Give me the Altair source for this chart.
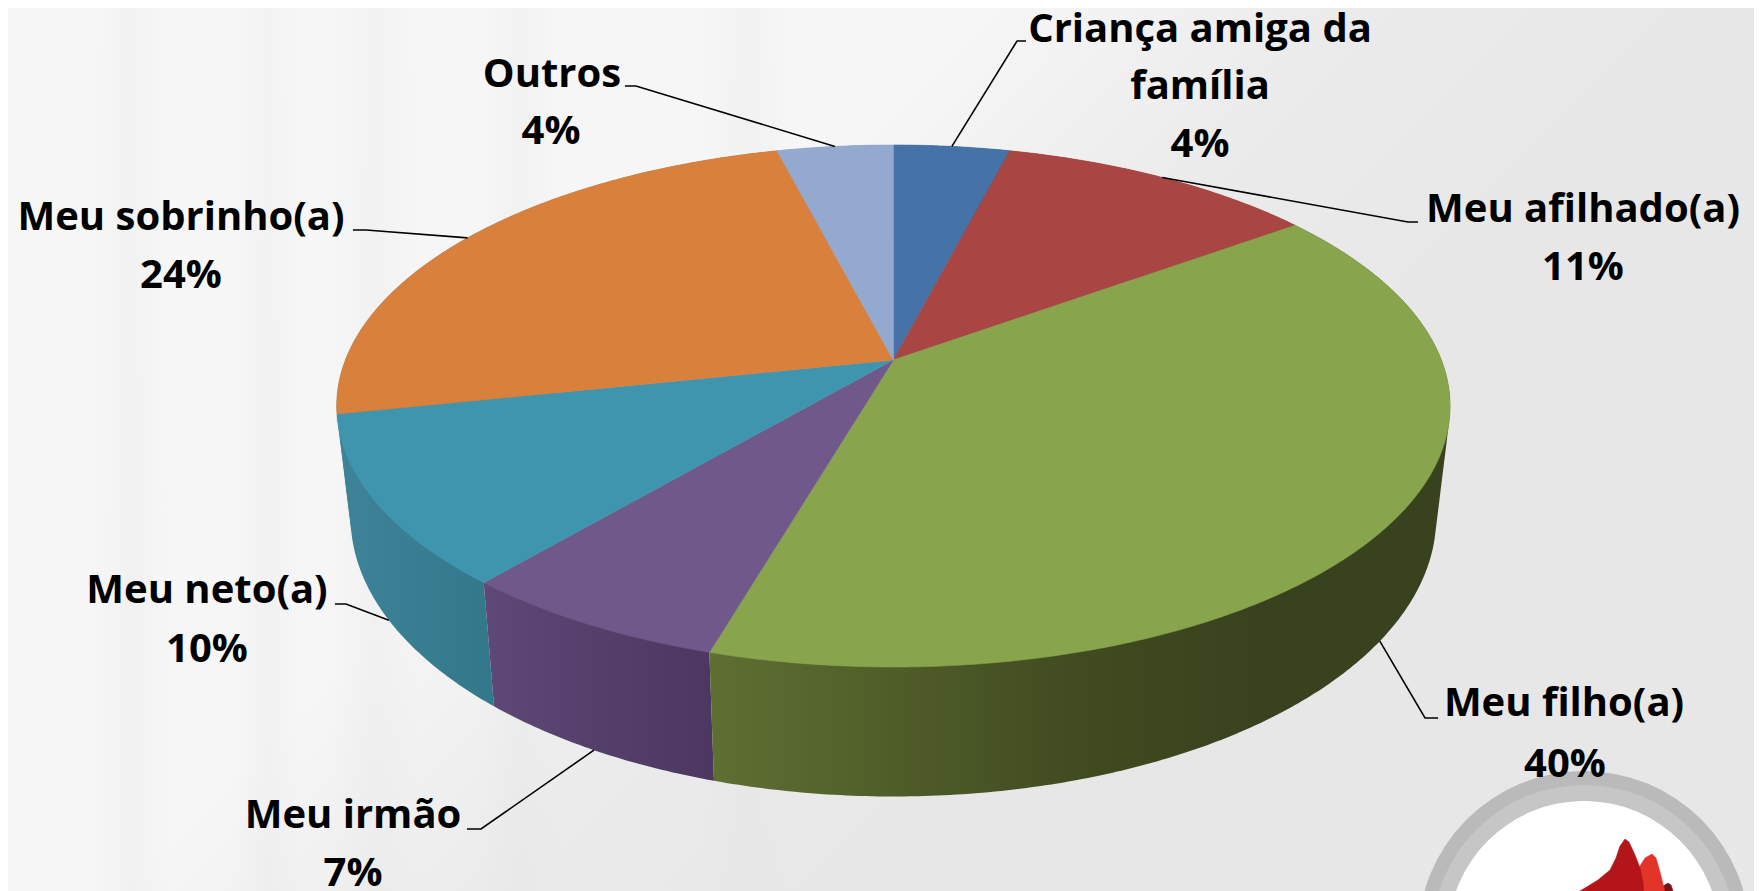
import math
import altair as alt

# ---- data ----
LABELS = ["Criança amiga da família", "Meu afilhado(a)", "Meu filho(a)", "Meu irmão",
          "Meu neto(a)", "Meu sobrinho(a)", "Outros"]
SHARES = [4.0, 11.0, 39.5, 6.7, 10.5, 24.3, 4.0]      # slice sizes as drawn
SHOWN_PCT = ["4%", "11%", "40%", "7%", "10%", "24%", "4%"]  # printed labels

# ---- styles / layout, separate from the data ----
TOP_COLORS = ["#4572A7", "#A94543", "#88A44D", "#71588B", "#4095AE", "#D8803C", "#93A9CF"]
WALL_STOPS = [
    [(0, "#38618f"), (1, "#2f5078")],
    [(0, "#8f3b39"), (1, "#7a3230")],
    [(0, "#5f6f32"), (0.5, "#404b20"), (0.75, "#38421e"), (1, "#38421e")],
    [(0, "#5e4877"), (1, "#4b3760")],
    [(0, "#3f8399"), (1, "#33778b")],
    [(0, "#3f8399"), (1, "#3a7f94")],
    [(0, "#7d90b0"), (1, "#6c7d99")],
]
W, H = 1746, 883
OFF = 8
CX, CY = 893.4 - OFF, 360 - OFF
A, B, K = 548.0, 252.9, 0.1762
FONT = "Open Sans"
FS = 40

# text lines per label, with line centres in page pixels
LABEL_LINES = [
    [("Criança amiga da", 1200, 30), ("família", 1200, 87), (SHOWN_PCT[0], 1200, 145)],
    [(LABELS[1], 1583, 210), (SHOWN_PCT[1], 1583, 268)],
    [(LABELS[2], 1564, 704), (SHOWN_PCT[2], 1565, 765)],
    [(LABELS[3], 353, 816), (SHOWN_PCT[3], 353, 874)],
    [(LABELS[4], 207, 591), (SHOWN_PCT[4], 207, 650)],
    [(LABELS[5], 181, 218), (SHOWN_PCT[5], 181, 276)],
    [(LABELS[6], 552, 75), (SHOWN_PCT[6], 551, 132)],
]
# leader: elbow and end next to the text, in page pixels; the third item says if it meets the wall
LEADERS = [
    ((1017, 41), (1026, 41), False),
    ((1408, 222), (1418, 222), False),
    ((1425, 718), (1438, 718), True),
    ((481, 829), (467, 829), True),
    ((346, 604), (335, 604), True),
    ((366, 230), (353, 230), False),
    ((636, 86), (625, 86), False),
]
# soft vertical streaks of the backdrop: left and right edge in page pixels
STREAKS = [(90, 170), (235, 300), (480, 560), (700, 790), (330, 420)]


def rim(theta, lower=False):
    """Perspective image of the unit circle (theta clockwise from 12 o'clock, in chart px)."""
    u, v = math.sin(theta), math.cos(theta)
    d = 1 + K * v
    x, yup = A * u / d, B * v / d
    if lower:
        return CX + 0.975 * x, CY + 1.07 * (-yup) + 108
    return CX + x, CY - yup


def arc_pts(t0, t1, lower=False):
    n = max(3, int(abs(t1 - t0) / 0.01))
    return [rim(t0 + (t1 - t0) * i / n, lower) for i in range(n + 1)]


def hull(points):
    pts = sorted(set(points))

    def half(seq):
        out = []
        for p in seq:
            while len(out) > 1 and ((out[-1][0] - out[-2][0]) * (p[1] - out[-2][1])
                                    - (out[-1][1] - out[-2][1]) * (p[0] - out[-2][0])) <= 0:
                out.pop()
            out.append(p)
        return out[:-1]

    return half(pts) + half(pts[::-1])


def feature(ring):
    ring = [list(p) for p in ring]
    if ring[0] != ring[-1]:
        ring.append(ring[0])
    return {"type": "Feature", "properties": {}, "geometry": {"type": "Polygon", "coordinates": [ring]}}


PROJ = dict(type="identity", scale=1, translate=[0, 0])


def shape(ring, fill):
    kw = dict(fill=fill)
    if isinstance(fill, str):
        kw.update(stroke=fill, strokeWidth=0.6)
    else:
        kw.update(strokeWidth=0)
    return alt.Chart(alt.Data(values=[feature(ring)])).mark_geoshape(**kw).project(**PROJ)


def grad(stops, x2=1, y2=0):
    return alt.Gradient(gradient="linear", x1=0, x2=x2, y1=0, y2=y2,
                        stops=[alt.GradientStop(offset=o, color=c) for o, c in stops])


# cumulative angles from the shares
total = sum(SHARES)
edges = [0.0]
for s in SHARES:
    edges.append(edges[-1] + s / total * 2 * math.pi)

one = alt.Data(values=[{"a": 1}])
layers = []

# backdrop
layers.append(alt.Chart(one).mark_rect(
    fill=grad([(0, "#f7f7f7"), (0.45, "#f6f6f6"), (0.62, "#ebebeb"), (0.8, "#e7e7e7"), (1, "#e7e7e7")], y2=0.5)
).encode(x=alt.value(0), x2=alt.value(W), y=alt.value(0), y2=alt.value(H)))
for a, b in STREAKS:
    layers.append(alt.Chart(one).mark_rect(
        fill=grad([(0, "rgba(225,225,225,0)"), (0.5, "rgba(225,225,225,0.22)"), (1, "rgba(225,225,225,0)")])
    ).encode(x=alt.value(a - OFF), x2=alt.value(b - OFF), y=alt.value(0), y2=alt.value(H)))

# logo
LOGO_X, LOGO_Y = 1584 - OFF, 937 - OFF
layers.append(alt.Chart(one).mark_arc(
    radius=136, radius2=166, theta=0, theta2=2 * math.pi, fill="#bababa"
).encode(x=alt.value(LOGO_X), y=alt.value(LOGO_Y)))
layers.append(alt.Chart(one).mark_arc(
    radius=136, radius2=152, theta=0, theta2=2 * math.pi, fill="#c6c6c6"
).encode(x=alt.value(LOGO_X), y=alt.value(LOGO_Y)))
layers.append(alt.Chart(one).mark_arc(
    radius=0, radius2=136, theta=0, theta2=2 * math.pi, fill="#ffffff"
).encode(x=alt.value(LOGO_X), y=alt.value(LOGO_Y)))
FLAMES = [
    ("#7f1015", [(1656, 900), (1660, 888), (1668, 883), (1671, 885), (1676, 900)]),
    ("#e3342a", [(1640, 866), (1645, 858), (1652, 854), (1656, 858), (1660, 872), (1664, 888), (1666, 900), (1630, 900)]),
    ("#b3151b", [(1625, 839), (1629, 842), (1635, 855), (1640, 868), (1643, 882), (1644, 900), (1566, 900), (1580, 891),
                 (1598, 880), (1610, 870), (1616, 858), (1620, 846)]),
]
for col, pts in FLAMES:
    layers.append(shape([(x - OFF, y - OFF) for x, y in pts], col))

# walls: hull of the rim arc and the lower rim arc
order = [0, 1, 6, 5, 4, 3, 2]
for i in order:
    t0, t1 = edges[i], edges[i + 1]
    layers.append(shape(hull(arc_pts(t0, t1) + arc_pts(t0, t1, lower=True)), grad(WALL_STOPS[i])))

# top faces
for i in range(len(SHARES)):
    t0, t1 = edges[i], edges[i + 1]
    layers.append(shape([(CX, CY)] + arc_pts(t0, t1), TOP_COLORS[i]))

# leaders
xs = alt.Scale(domain=[0, W], range=[0, W], nice=False, zero=False)
ys = alt.Scale(domain=[0, H], range=[0, H], nice=False, zero=False)
rows = []
for i, (elbow, end, wall) in enumerate(LEADERS):
    ax, ay = rim((edges[i] + edges[i + 1]) / 2, lower=wall)
    for j, (x, y) in enumerate([(ax, ay), (elbow[0] - OFF, elbow[1] - OFF), (end[0] - OFF, end[1] - OFF)]):
        rows.append({"s": LABELS[i], "o": j, "x": x, "y": y})
layers.append(alt.Chart(alt.Data(values=rows)).mark_line(color="#000000", strokeWidth=1.6).encode(
    x=alt.X("x:Q", scale=xs, axis=None), y=alt.Y("y:Q", scale=ys, axis=None),
    detail="s:N", order="o:Q"))

# text
trows = [{"t": t, "x": x - OFF, "y": y - OFF} for lines in LABEL_LINES for t, x, y in lines]
layers.append(alt.Chart(alt.Data(values=trows)).mark_text(
    font=FONT, fontSize=FS, fontWeight="bold", color="#000000", align="center", baseline="middle"
).encode(x=alt.X("x:Q", scale=xs, axis=None), y=alt.Y("y:Q", scale=ys, axis=None), text="t:N"))

chart = alt.layer(*layers).properties(
    width=W, height=H, padding=0, autosize=alt.AutoSizeParams(type="none"), background="#eeeeee"
).configure_view(stroke=None)

chart.save("out.html", embed_options={"renderer": "svg", "actions": False})
